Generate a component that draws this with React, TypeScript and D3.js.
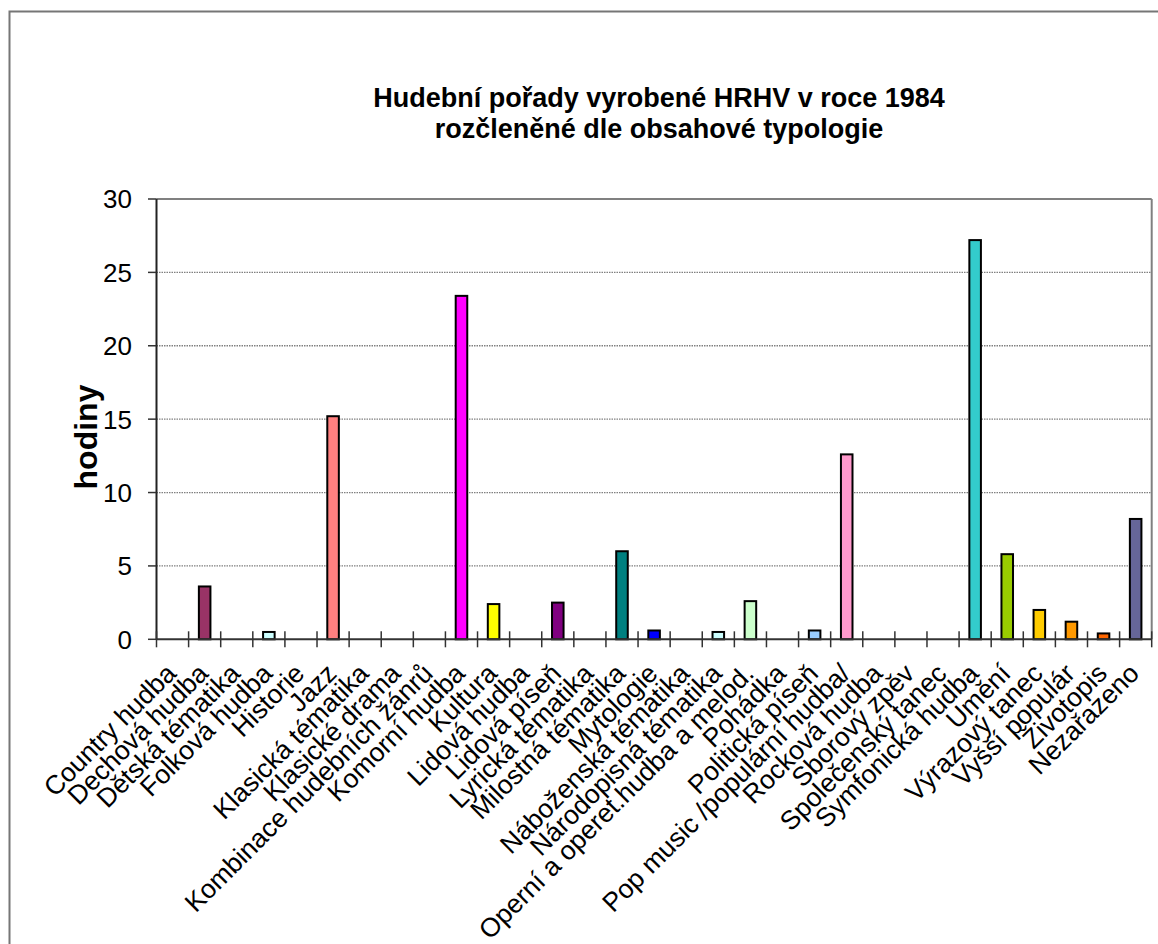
import React from 'react';
import * as d3 from 'd3';

const categories = [
  'Country hudba', 'Dechová hudba', 'Dětská tématika', 'Folková hudba', 'Historie', 'Jazz',
  'Klasická tématika', 'Klasické drama', 'Kombinace hudebních žánrů', 'Komorní hudba', 'Kultura',
  'Lidová hudba', 'Lidová píseň', 'Lyrická tématika', 'Milostná tématika', 'Mytologie',
  'Náboženská tématika', 'Národopisná tématika', 'Operní a operet.hudba a melod.', 'Pohádka',
  'Politická píseň', 'Pop music /populární hudba/', 'Rocková hudba', 'Sborový zpěv',
  'Společenský tanec', 'Symfonická hudba', 'Umění', 'Výrazový tanec', 'Vyšší populár',
  'Životopis', 'Nezařazeno',
];

const values = [
  0, 3.6, 0, 0.5, 0, 15.2,
  0, 0, 0, 23.4, 2.4,
  0, 2.5, 0, 6.0, 0.6,
  0, 0.5, 2.6, 0,
  0.6, 12.6, 0, 0,
  0, 27.2, 5.8, 2.0, 1.2,
  0.4, 8.2,
];

const barColors = [
  '#9999FF', '#993366', '#FFFFCC', '#CCFFFF', '#660066', '#FF8080', '#0066CC', '#CCCCFF',
  '#000080', '#FF00FF', '#FFFF00', '#00FFFF', '#800080', '#800000', '#008080', '#0000FF',
  '#00CCFF', '#CCFFFF', '#CCFFCC', '#FFFF99', '#99CCFF', '#FF99CC', '#CC99FF', '#FFCC99',
  '#3366FF', '#33CCCC', '#99CC00', '#FFCC00', '#FF9900', '#FF6600', '#666699',
];

const yTicks = [0, 5, 10, 15, 20, 25, 30];
const titleLines = ['Hudební pořady vyrobené HRHV v roce 1984', 'rozčleněné dle obsahové typologie'];
const yAxisTitle = 'hodiny';

const FONT = '"Liberation Sans", Arial, sans-serif';

export default function App() {
  const W = 1158, H = 944;
  const left = 156.5, right = 1151.7, top = 199, bottom = 639.3;
  const x = d3.scaleBand<string>().domain(categories).range([left, right]).padding(0);
  const y = d3.scaleLinear().domain([0, 30]).range([bottom, top]);
  const bw = x.bandwidth();
  const barW = bw * 0.36;
  const boundaries = d3.range(categories.length + 1).map((i) => left + i * bw);

  return (
    <svg width={W} height={H} style={{ position: 'absolute', left: 0, top: 0, background: '#fff' }} fontFamily={FONT}>
      <rect x={0} y={0} width={W} height={H} fill="#fff" />
      <rect x={9.5} y={11.5} width={1300} height={1100} fill="none" stroke="#767676" strokeWidth={2} />

      {titleLines.map((t, i) => (
        <text key={i} x={659} y={107 + i * 31} textAnchor="middle" fontSize={27} fontWeight="bold" fill="#000">{t}</text>
      ))}

      {yTicks.filter((t) => t > 0 && t < 30).map((t) => (
        <line key={t} x1={left} x2={right} y1={y(t)} y2={y(t)} stroke="#808080" strokeWidth={1.3} strokeDasharray="1.5,1" />
      ))}
      <line x1={left} x2={right} y1={top} y2={top} stroke="#808080" strokeWidth={2} />
      <line x1={right} x2={right} y1={top} y2={bottom} stroke="#808080" strokeWidth={2} />

      {categories.map((c, i) => values[i] > 0 ? (
        <rect key={c} x={(x(c) as number) + bw / 2 - barW / 2} y={y(values[i])} width={barW} height={bottom - y(values[i])}
          fill={barColors[i]} stroke="#000" strokeWidth={2} />
      ) : null)}

      <line x1={left} x2={left} y1={top} y2={bottom} stroke="#222" strokeWidth={2} />
      <line x1={left} x2={right} y1={bottom} y2={bottom} stroke="#333" strokeWidth={2} />
      {yTicks.map((t) => (
        <g key={t}>
          <line x1={148} x2={left} y1={y(t)} y2={y(t)} stroke="#333" strokeWidth={1.5} />
          <text x={132} y={y(t)} dy="0.36em" textAnchor="end" fontSize={26} fill="#000">{t}</text>
        </g>
      ))}
      {boundaries.map((bx, i) => (
        <line key={i} x1={bx} x2={bx} y1={bottom - 8} y2={bottom + 8} stroke="#333" strokeWidth={1.5} />
      ))}

      {categories.map((c) => {
        const cx = (x(c) as number) + bw / 2;
        return (
          <text key={c} transform={`translate(${cx + 5},${675}) rotate(-45)`} textAnchor="end" fontSize={26.5} fill="#000">{c}</text>
        );
      })}

      <text transform={`translate(97,437) rotate(-90)`} textAnchor="middle" fontSize={32} fontWeight="bold" fill="#000">{yAxisTitle}</text>
    </svg>
  );
}
